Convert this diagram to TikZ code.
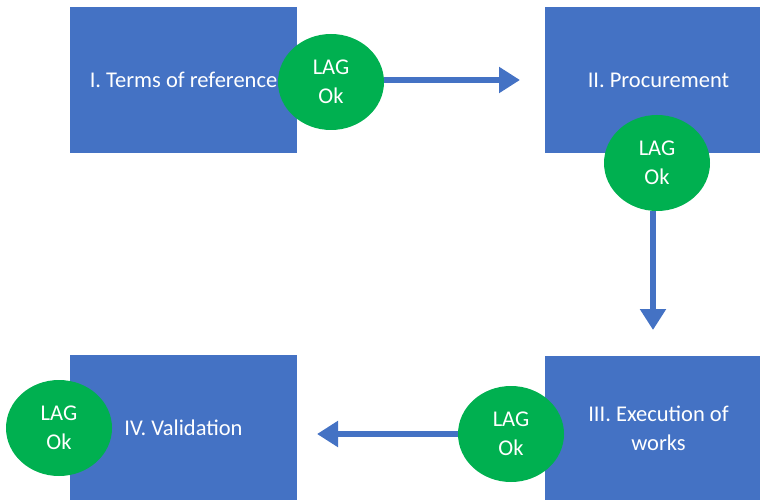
\documentclass[tikz,border=0pt]{standalone}
\usepackage{fontspec}
\setmainfont{Carlito}
\usetikzlibrary{shapes.geometric,arrows.meta}

\definecolor{phaseblue}{HTML}{4472C4}
\definecolor{laggreen}{HTML}{00B050}

\begin{document}
\begin{tikzpicture}[x=1pt, y=-1pt,
    phase/.style={rectangle, fill=phaseblue, text=white, inner sep=0pt,
        minimum width=227pt, minimum height=146pt, align=center,
        font=\fontsize{22.5}{29}\selectfont},
    lag/.style={ellipse, fill=laggreen, text=white, inner sep=0pt,
        minimum width=106pt, minimum height=96pt, align=center,
        font=\fontsize{22.5}{29}\selectfont},
    flow/.style={draw=phaseblue, line width=5.5pt,
        -{Triangle[length=21pt,width=25pt]}}]
    \clip (0,0) rectangle (760,500);

    % the four phases
    \node[phase] (terms) at (183.5,80) {I. Terms of reference};
    \node[phase] (proc)  at (658.5,80) {II. Procurement};
    \node[phase] (exec)  at (658.5,428.5) {III. Execution of\\works};
    \node[phase] (valid) at (183.5,428) {IV. Validation};

    % LAG approval at the end of each phase
    \node[lag] (lag1) at (331,82)  {LAG\\Ok};
    \node[lag] (lag2) at (657,163) {LAG\\Ok};
    \node[lag] (lag3) at (511,434) {LAG\\Ok};
    \node[lag] (lag4) at (59,428)  {LAG\\Ok};

    % flow between phases
    \coordinate (to2) at (520,80);
    \coordinate (to3) at (653,330);
    \coordinate (to4) at (317,434);
    \draw[flow] (lag1.east |- to2) -- (to2);
    \draw[flow] (lag2.south -| to3) -- (to3);
    \draw[flow] (lag3.west) -- (to4);
\end{tikzpicture}
\end{document}
